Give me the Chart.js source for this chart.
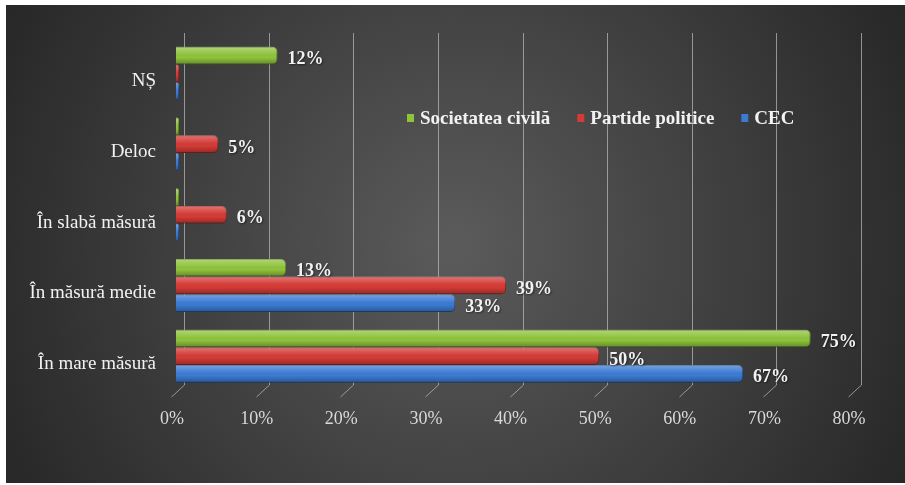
<!DOCTYPE html>
<html lang="ro">
<head>
<meta charset="utf-8">
<title>Grafic</title>
<script src="https://cdn.jsdelivr.net/npm/chart.js@4.4.1/dist/chart.umd.min.js"></script>
<style>
  html, body { margin: 0; padding: 0; background: #fff; }
  #wrap { width: 905px; height: 485px; }
</style>
</head>
<body>
<div id="wrap"><canvas id="grafic" width="905" height="485"></canvas></div>
<script>
// Dados do gráfico
const categorias = ['NȘ', 'Deloc', 'În slabă măsură', 'În măsură medie', 'În mare măsură'];
const societateaCivila = [12, 0, 0, 13, 75];
const partidePolitice = [0, 5, 6, 39, 50];
const cec = [0, 0, 0, 33, 67];
const nomesSeries = ['Societatea civilă', 'Partide politice', 'CEC'];
const coresSeries = ['#8fc33c', '#d43b36', '#3b7bd3'];
const bordasSeries = ['#5f8a22', '#9c2220', '#22508f'];
const escalaX = { min: 0, max: 80, passo: 10 };

const FONTE = "'Liberation Serif', 'Times New Roman', serif";

// Fundo escuro com gradiente radial
const fundo = {
  id: 'fundo',
  beforeDraw(chart) {
    const ctx = chart.ctx;
    ctx.save();
    ctx.fillStyle = '#ffffff';
    ctx.fillRect(0, 0, chart.width, chart.height);
    const g = ctx.createRadialGradient(455, 245, 0, 455, 245, 520);
    g.addColorStop(0, '#5b5b5b');
    g.addColorStop(1, '#262626');
    ctx.fillStyle = g;
    ctx.fillRect(6, 5, chart.width - 6, 478);
    ctx.restore();
  }
};

// Linhas de grade na "parede" de trás (efeito 3D)
const grade = {
  id: 'grade',
  beforeDatasetsDraw(chart) {
    const ctx = chart.ctx;
    const x = chart.scales.x;
    ctx.save();
    ctx.strokeStyle = 'rgba(190,190,190,0.7)';
    ctx.lineWidth = 1;
    x.ticks.forEach(t => {
      const px = Math.round(x.getPixelForValue(t.value));
      ctx.beginPath();
      ctx.moveTo(px + 8.5, 33);
      ctx.lineTo(px + 8.5, 385);
      ctx.lineTo(px - 4.5, 397);
      ctx.stroke();
    });
    ctx.restore();
  }
};

// Brilho nas barras
const brilho = {
  id: 'brilho',
  afterDatasetsDraw(chart) {
    const ctx = chart.ctx;
    ctx.save();
    chart.data.datasets.forEach((ds, i) => {
      chart.getDatasetMeta(i).data.forEach(bar => {
        const top = bar.y - bar.height / 2;
        const w = bar.x - bar.base;
        if (w <= 0) return;
        const g = ctx.createLinearGradient(0, top, 0, top + bar.height);
        g.addColorStop(0, 'rgba(255,255,255,0.30)');
        g.addColorStop(0.35, 'rgba(255,255,255,0.08)');
        g.addColorStop(0.6, 'rgba(0,0,0,0)');
        g.addColorStop(1, 'rgba(0,0,0,0.30)');
        ctx.fillStyle = g;
        ctx.beginPath();
        ctx.roundRect(bar.base, top, w, bar.height, [0, 5, 5, 0]);
        ctx.fill();
      });
    });
    ctx.restore();
  }
};

// Rótulos de valor
const rotulos = {
  id: 'rotulos',
  afterDatasetsDraw(chart) {
    const ctx = chart.ctx;
    ctx.save();
    ctx.font = 'bold 18px ' + FONTE;
    ctx.fillStyle = '#f2f2f2';
    ctx.textBaseline = 'middle';
    ctx.textAlign = 'left';
    ctx.shadowColor = 'rgba(0,0,0,0.5)';
    ctx.shadowBlur = 2;
    ctx.shadowOffsetX = 1;
    ctx.shadowOffsetY = 1;
    chart.data.datasets.forEach((ds, i) => {
      chart.getDatasetMeta(i).data.forEach((bar, j) => {
        const v = ds.data[j];
        if (!v) return;
        ctx.fillText(v + '%', bar.x + 10, bar.y + 4);
      });
    });
    ctx.restore();
  }
};

// Legenda dentro da área do gráfico
const legenda = {
  id: 'legenda',
  afterDraw(chart) {
    const ctx = chart.ctx;
    let x = 407;
    const y = 118;
    ctx.save();
    ctx.font = 'bold 19px ' + FONTE;
    ctx.textBaseline = 'middle';
    chart.data.datasets.forEach(ds => {
      ctx.fillStyle = ds.backgroundColor;
      ctx.fillRect(x, y - 4, 7, 8);
      ctx.fillStyle = '#f2f2f2';
      ctx.fillText(ds.label, x + 13, y + 1);
      x += 13 + ctx.measureText(ds.label).width + 27;
    });
    ctx.restore();
  }
};

const series = [societateaCivila, partidePolitice, cec];

new Chart(document.getElementById('grafic'), {
  type: 'bar',
  data: {
    labels: categorias,
    datasets: series.map((dados, i) => ({
      label: nomesSeries[i],
      data: dados,
      backgroundColor: coresSeries[i],
      borderColor: bordasSeries[i],
      borderWidth: 1,
      borderRadius: 5,
      borderSkipped: 'start',
      minBarLength: 3,
      categoryPercentage: 0.75,
      barPercentage: 1
    }))
  },
  options: {
    indexAxis: 'y',
    responsive: false,
    animation: false,
    layout: { padding: { left: 0, right: 52, top: 38, bottom: 0 } },
    plugins: {
      legend: { display: false },
      tooltip: { enabled: false }
    },
    scales: {
      x: {
        min: escalaX.min,
        max: escalaX.max,
        grid: { display: false },
        border: { display: false },
        afterFit: s => { s.height = 485 - 38 - 353.5; },
        ticks: {
          stepSize: escalaX.passo,
          callback: v => v + '%',
          color: '#d9d9d9',
          font: { family: FONTE, size: 18 },
          padding: 9,
          labelOffset: -4,
          maxRotation: 0
        }
      },
      y: {
        grid: { display: false },
        border: { display: false },
        afterFit: s => { s.width = 176; },
        ticks: {
          color: '#f2f2f2',
          font: { family: FONTE, size: 19 },
          padding: 12,
          labelOffset: 8
        }
      }
    }
  },
  plugins: [fundo, grade, brilho, rotulos, legenda]
});
</script>
</body>
</html>
